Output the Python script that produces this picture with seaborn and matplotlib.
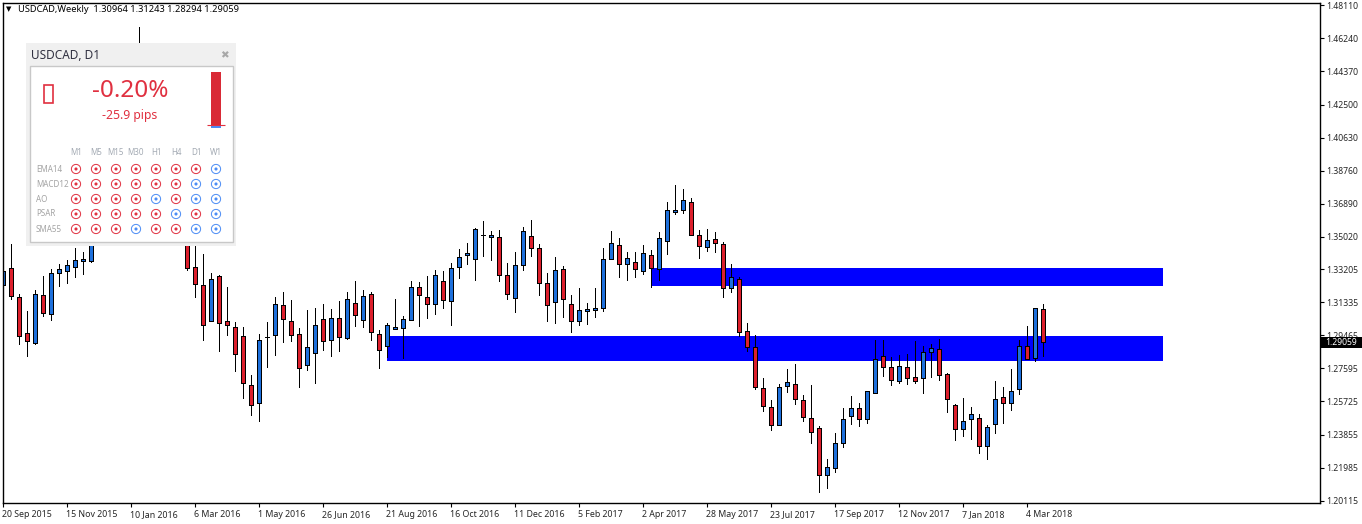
import numpy as np
import pandas as pd
import matplotlib
matplotlib.use("Agg")
import matplotlib.pyplot as plt
from matplotlib.patches import Rectangle
from matplotlib.transforms import ScaledTranslation
import seaborn as sns

# weekly candles (bars 12-22 sit behind the panel, guessed)
opens = [
    1.3230, 1.3325, 1.3161, 1.2957, 1.2904, 1.3172, 1.3065, 1.3300, 1.3308, 1.3331,
    1.3368, 1.3368, 1.3490, 1.3600, 1.3720, 1.3810, 1.3960, 1.4120, 1.4450, 1.4150,
    1.3980, 1.3800, 1.3650, 1.3530, 1.3331, 1.3228, 1.3025, 1.3279, 1.3025, 1.2991,
    1.2940, 1.2664, 1.2561, 1.2934, 1.2946, 1.3115, 1.3025, 1.2952, 1.2776, 1.2844,
    1.3036, 1.2917, 1.3041, 1.2932, 1.3127, 1.3031, 1.3178, 1.2952, 1.2884, 1.2983,
    1.2985, 1.3031, 1.3217, 1.3161, 1.3121, 1.3251, 1.3138, 1.3331, 1.3401, 1.3376,
    1.3511, 1.3500, 1.3500, 1.3285, 1.3155, 1.3342, 1.3505, 1.3437, 1.3240, 1.3133,
    1.3319, 1.3121, 1.3025, 1.3082, 1.3091, 1.3099, 1.3376, 1.3455, 1.3347, 1.3359,
    1.3308, 1.3398, 1.3319, 1.3477, 1.3644, 1.3652, 1.3698, 1.3511, 1.3443, 1.3488,
    1.3460, 1.3212, 1.3263, 1.2969, 1.2878, 1.2647, 1.2539, 1.2438, 1.2658, 1.2669,
    1.2579, 1.2477, 1.2421, 1.2155, 1.2195, 1.2336, 1.2488, 1.2534, 1.2471, 1.2618,
    1.2827, 1.2765, 1.2686, 1.2765, 1.2709, 1.2703, 1.2850, 1.2867, 1.2726, 1.2551,
    1.2415, 1.2471, 1.2477, 1.2319, 1.2443, 1.2596, 1.2562, 1.2641, 1.2884, 1.2816,
    1.30964,
]
closes = [
    1.3311, 1.3166, 1.2940, 1.2912, 1.3178, 1.3070, 1.3296, 1.3319, 1.3342, 1.3370,
    1.3376, 1.3485, 1.3600, 1.3720, 1.3810, 1.3960, 1.4120, 1.4450, 1.4150, 1.3980,
    1.3800, 1.3650, 1.3530, 1.3325, 1.3234, 1.3003, 1.3262, 1.3013, 1.3003, 1.2839,
    1.2674, 1.2550, 1.2917, 1.2934, 1.3121, 1.3036, 1.2946, 1.2760, 1.2878, 1.3003,
    1.2912, 1.3041, 1.2934, 1.3149, 1.3059, 1.3166, 1.2963, 1.2861, 1.3003, 1.2991,
    1.3036, 1.3217, 1.3172, 1.3121, 1.3285, 1.3143, 1.3325, 1.3387, 1.3409, 1.3545,
    1.3511, 1.3511, 1.3285, 1.3178, 1.3342, 1.3534, 1.3437, 1.3240, 1.3115, 1.3313,
    1.3149, 1.3025, 1.3087, 1.3093, 1.3099, 1.3376, 1.3466, 1.3347, 1.3381, 1.3319,
    1.3409, 1.3325, 1.3494, 1.3652, 1.3652, 1.3709, 1.3511, 1.3449, 1.3483, 1.3466,
    1.3212, 1.3274, 1.2963, 1.2878, 1.2652, 1.2545, 1.2438, 1.2652, 1.2680, 1.2584,
    1.2483, 1.2398, 1.2155, 1.2200, 1.2336, 1.2471, 1.2534, 1.2471, 1.2630, 1.2810,
    1.2765, 1.2692, 1.2771, 1.2703, 1.2686, 1.2850, 1.2873, 1.2720, 1.2584, 1.2415,
    1.2460, 1.2500, 1.2319, 1.2426, 1.2584, 1.2562, 1.2630, 1.2884, 1.2810, 1.3099,
    1.29059,
]
highs = [
    1.3413, 1.3462, 1.3178, 1.3083, 1.3200, 1.3281, 1.3320, 1.3349, 1.3372, 1.3438,
    1.3415, 1.3513, 1.3640, 1.3760, 1.3850, 1.4010, 1.4200, 1.4688, 1.4530, 1.4240,
    1.4060, 1.3880, 1.3720, 1.3560, 1.3500, 1.3405, 1.3296, 1.3287, 1.3219, 1.3019,
    1.2991, 1.2721, 1.2952, 1.3019, 1.3161, 1.3189, 1.3145, 1.2985, 1.3089, 1.3099,
    1.3121, 1.3093, 1.3140, 1.3189, 1.3253, 1.3202, 1.3189, 1.2974, 1.3014, 1.3151,
    1.3053, 1.3253, 1.3245, 1.3281, 1.3313, 1.3309, 1.3355, 1.3432, 1.3468, 1.3551,
    1.3592, 1.3534, 1.3541, 1.3355, 1.3417, 1.3556, 1.3598, 1.3462, 1.3296, 1.3388,
    1.3336, 1.3174, 1.3213, 1.3128, 1.3213, 1.3439, 1.3535, 1.3496, 1.3415, 1.3417,
    1.3456, 1.3428, 1.3530, 1.3698, 1.3795, 1.3773, 1.3722, 1.3539, 1.3545, 1.3530,
    1.3471, 1.3349, 1.3274, 1.3014, 1.2946, 1.2703, 1.2580, 1.2669, 1.2754, 1.2782,
    1.2609, 1.2665, 1.2432, 1.2247, 1.2392, 1.2534, 1.2601, 1.2562, 1.2630, 1.2919,
    1.2919, 1.2822, 1.2833, 1.2840, 1.2914, 1.2886, 1.2897, 1.2923, 1.2733, 1.2556,
    1.2592, 1.2541, 1.2500, 1.2438, 1.2688, 1.2652, 1.2756, 1.2919, 1.2999, 1.3099,
    1.31243,
]
lows = [
    1.3179, 1.3151, 1.2896, 1.2829, 1.2898, 1.3055, 1.3032, 1.3226, 1.3243, 1.3277,
    1.3292, 1.3362, 1.3475, 1.3560, 1.3680, 1.3770, 1.3920, 1.4060, 1.4100, 1.3920,
    1.3760, 1.3600, 1.3500, 1.3315, 1.3164, 1.2919, 1.3025, 1.2859, 1.2948, 1.2744,
    1.2591, 1.2496, 1.2462, 1.2769, 1.2835, 1.2908, 1.2914, 1.2654, 1.2750, 1.2676,
    1.2863, 1.2829, 1.2859, 1.2926, 1.2999, 1.2995, 1.2919, 1.2761, 1.2824, 1.2983,
    1.2820, 1.3031, 1.2999, 1.3044, 1.3066, 1.3100, 1.3004, 1.3270, 1.3349, 1.3258,
    1.3394, 1.3372, 1.3253, 1.3151, 1.3078, 1.3315, 1.3394, 1.3174, 1.3026, 1.3015,
    1.3049, 1.2965, 1.3004, 1.3010, 1.3049, 1.3083, 1.3376, 1.3276, 1.3258, 1.3276,
    1.3294, 1.3219, 1.3258, 1.3405, 1.3631, 1.3637, 1.3511, 1.3383, 1.3422, 1.3417,
    1.3162, 1.3191, 1.2942, 1.2857, 1.2643, 1.2518, 1.2411, 1.2438, 1.2626, 1.2558,
    1.2462, 1.2338, 1.2061, 1.2083, 1.2174, 1.2315, 1.2445, 1.2434, 1.2451, 1.2618,
    1.2716, 1.2665, 1.2677, 1.2671, 1.2677, 1.2620, 1.2710, 1.2693, 1.2513, 1.2354,
    1.2377, 1.2360, 1.2281, 1.2247, 1.2394, 1.2451, 1.2524, 1.2614, 1.2810, 1.2803,
    1.28294,
]

date_labels = ["20 Sep 2015", "15 Nov 2015", "10 Jan 2016", "6 Mar 2016", "1 May 2016",
               "26 Jun 2016", "21 Aug 2016", "16 Oct 2016", "11 Dec 2016", "5 Feb 2017",
               "2 Apr 2017", "28 May 2017", "23 Jul 2017", "17 Sep 2017", "12 Nov 2017",
               "7 Jan 2018", "4 Mar 2018"]
price_ticks = [1.48110, 1.46240, 1.44370, 1.42500, 1.40630, 1.38760, 1.36890, 1.35020,
               1.33205, 1.31335, 1.29465, 1.27595, 1.25725, 1.23855, 1.21985, 1.20115]

# supply / demand zones: first bar, last bar, price low, price high
zone_upper = (81, 145, 1.3226, 1.3326)
zone_lower = (48, 145, 1.2803, 1.2942)

# D1 signal panel
timeframes = ["M1", "M5", "M15", "M30", "H1", "H4", "D1", "W1"]
indicators = ["EMA14", "MACD12", "AO", "PSAR", "SMA55"]
signals = [
    "rrrrrrrb",
    "rrrrrrbb",
    "rrrrbrbb",
    "rrrrrbrb",
    "rrrbrrbb",
]
strength_down = 1.0
strength_up = 0.055

BLUE = "#1e70dc"
RED = "#dc1f2c"
PANEL_RED = "#e03040"
PANEL_BLUE = "#4a8cf5"
W, H = 1362, 524

sns.set_style("white")
plt.rcParams["font.family"] = ["Noto Sans", "DejaVu Sans"]


def px_box(x0, y0, x1, y1):
    return [x0 / W, 1 - y1 / H, (x1 - x0) / W, (y1 - y0) / H]


fig = plt.figure(figsize=(W / 100, H / 100), dpi=100)
fig.patch.set_facecolor("white")
ax = fig.add_axes(px_box(2.5, 2.5, 1319.5, 503))

candles = pd.DataFrame({"open": opens, "high": highs, "low": lows, "close": closes})
candles["bar"] = np.arange(len(candles))
candles["top"] = candles[["open", "close"]].max(axis=1)
candles["bottom"] = candles[["open", "close"]].min(axis=1)
candles["height"] = candles["top"] - candles["bottom"]

# zones go under the candles
for first, last, low, high in (zone_upper, zone_lower):
    ax.add_patch(Rectangle((first, low), last - first, high - low, color="#0000ff", lw=0, zorder=0.5))

ax.vlines(candles["bar"], candles["low"], candles["high"], color="black", lw=0.72,
          antialiased=False, zorder=1)

for is_up, color in ((True, BLUE), (False, RED)):
    part = candles[(candles["close"] >= candles["open"]) == is_up]
    sns.barplot(data=part, x="bar", y="height", bottom=part["bottom"].values, native_scale=True,
                errorbar=None, color=color, saturation=1, width=0.5, edgecolor="black",
                linewidth=0.72, antialiased=False, ax=ax, zorder=2)

ax.set_xlim(-0.1, 164.5)
ax.set_ylim(1.19985, 1.48264)
ax.set_xlabel("")
ax.set_ylabel("")
for spine in ax.spines.values():
    spine.set_linewidth(1)
    spine.set_color("black")

# tick_params resets label transforms, so it comes before the nudge
ax.tick_params(axis="x", bottom=True, length=3, width=0.8, pad=7.2, color="black")
ax.set_xticks(np.arange(len(date_labels)) * 8)
ax.set_xticklabels(date_labels, ha="left", va="baseline", fontsize=6.35)
nudge = ScaledTranslation(-1 / 100, 0, fig.dpi_scale_trans)
for lab in ax.get_xticklabels():
    lab.set_transform(lab.get_transform() + nudge)
ax.yaxis.tick_right()
ax.set_yticks(price_ticks)
ax.set_yticklabels([f"{p:.5f}" for p in price_ticks], fontsize=6.2)
ax.tick_params(axis="y", right=True, length=3, width=0.8, pad=2, color="black")

# last price tag on the price scale
ax.add_patch(Rectangle((1.0011, closes[-1] - 0.0030), 0.0311, 0.0058, transform=ax.get_yaxis_transform(),
                       fc="black", ec="none", clip_on=False, zorder=9))
ax.annotate(f"{closes[-1]:.5f}", xy=(1, closes[-1]), xycoords=("axes fraction", "data"),
            xytext=(4, 0), textcoords="offset points", va="center", ha="left", color="white",
            fontsize=6.2, zorder=10, annotation_clip=False)

# chart header
fig.text(6 / W, 1 - 9 / H, "▼", fontsize=5, va="center", color="black",
         family="DejaVu Sans")
fig.text(18 / W, 1 - 9 / H, "USDCAD,Weekly  %.5f %.5f %.5f %.5f" % (opens[-1], highs[-1], lows[-1], closes[-1]),
         fontsize=6.7, va="center", color="black")

# floating panel
panel = fig.add_axes(px_box(26, 43, 236, 246), zorder=5)
panel.set_xlim(26, 236)
panel.set_ylim(246, 43)
panel.axis("off")
panel.add_patch(Rectangle((26, 43), 210, 203, fc="#f0f0f0", ec="none"))
panel.add_patch(Rectangle((29.5, 66.5), 203, 176, fc="white", ec="#c8c8c8", lw=1))
panel.text(31, 56, "USDCAD, D1", fontsize=8.5, va="center", color="#303040")
panel.text(224, 55, "✖", fontsize=7.5, va="center", ha="center", color="#a8a8a8", family="DejaVu Sans")
panel.add_patch(Rectangle((43.5, 85.5), 9, 18, fc="white", ec=PANEL_RED, lw=1.2))
panel.text(130, 91, "-0.20%", fontsize=17.5, va="center", ha="center", color=PANEL_RED)
panel.text(130, 115.5, "-25.9 pips", fontsize=8.8, va="center", ha="center", color=PANEL_RED)
pips_scale = 53
panel.bar([216], [strength_down * pips_scale], bottom=[125.5 - strength_down * pips_scale], width=10,
          color="#d92a36", lw=0)
panel.bar([216], [strength_up * pips_scale], bottom=[125.5], width=10, color=PANEL_BLUE, lw=0)
panel.hlines(125.5, 207, 225, color=PANEL_RED, lw=0.8)

# signal grid
grid = fig.add_axes(px_box(66, 161.5, 226, 236.5), zorder=6)
grid.patch.set_alpha(0)
grid.axis("off")
cells = pd.DataFrame(
    [(c, r, signals[r][c]) for r in range(len(indicators)) for c in range(len(timeframes))],
    columns=["col", "row", "signal"],
)
sns.scatterplot(data=cells, x="col", y="row", hue="signal", palette={"r": PANEL_RED, "b": PANEL_BLUE},
                marker="o", s=44, linewidth=0.7, legend=False, ax=grid, clip_on=False)
for coll in grid.collections:
    coll.set_facecolor("none")
    coll.set_edgecolor([{"r": PANEL_RED, "b": PANEL_BLUE}[s] for s in cells["signal"]])
sns.scatterplot(data=cells, x="col", y="row", hue="signal", palette={"r": PANEL_RED, "b": PANEL_BLUE},
                marker="o", s=5, linewidth=0, legend=False, ax=grid, clip_on=False)
grid.set_xlim(-0.5, 7.5)
grid.set_ylim(4.5, -0.5)
for c, name in enumerate(timeframes):
    grid.text(c, -1.13, name, fontsize=5.8, ha="center", va="center", color="#a4abb4")
for r, name in enumerate(indicators):
    grid.text(-2.0, r, name, fontsize=5.8, ha="left", va="center", color="#a4a4a4")

fig.savefig("out.png", dpi=100)
